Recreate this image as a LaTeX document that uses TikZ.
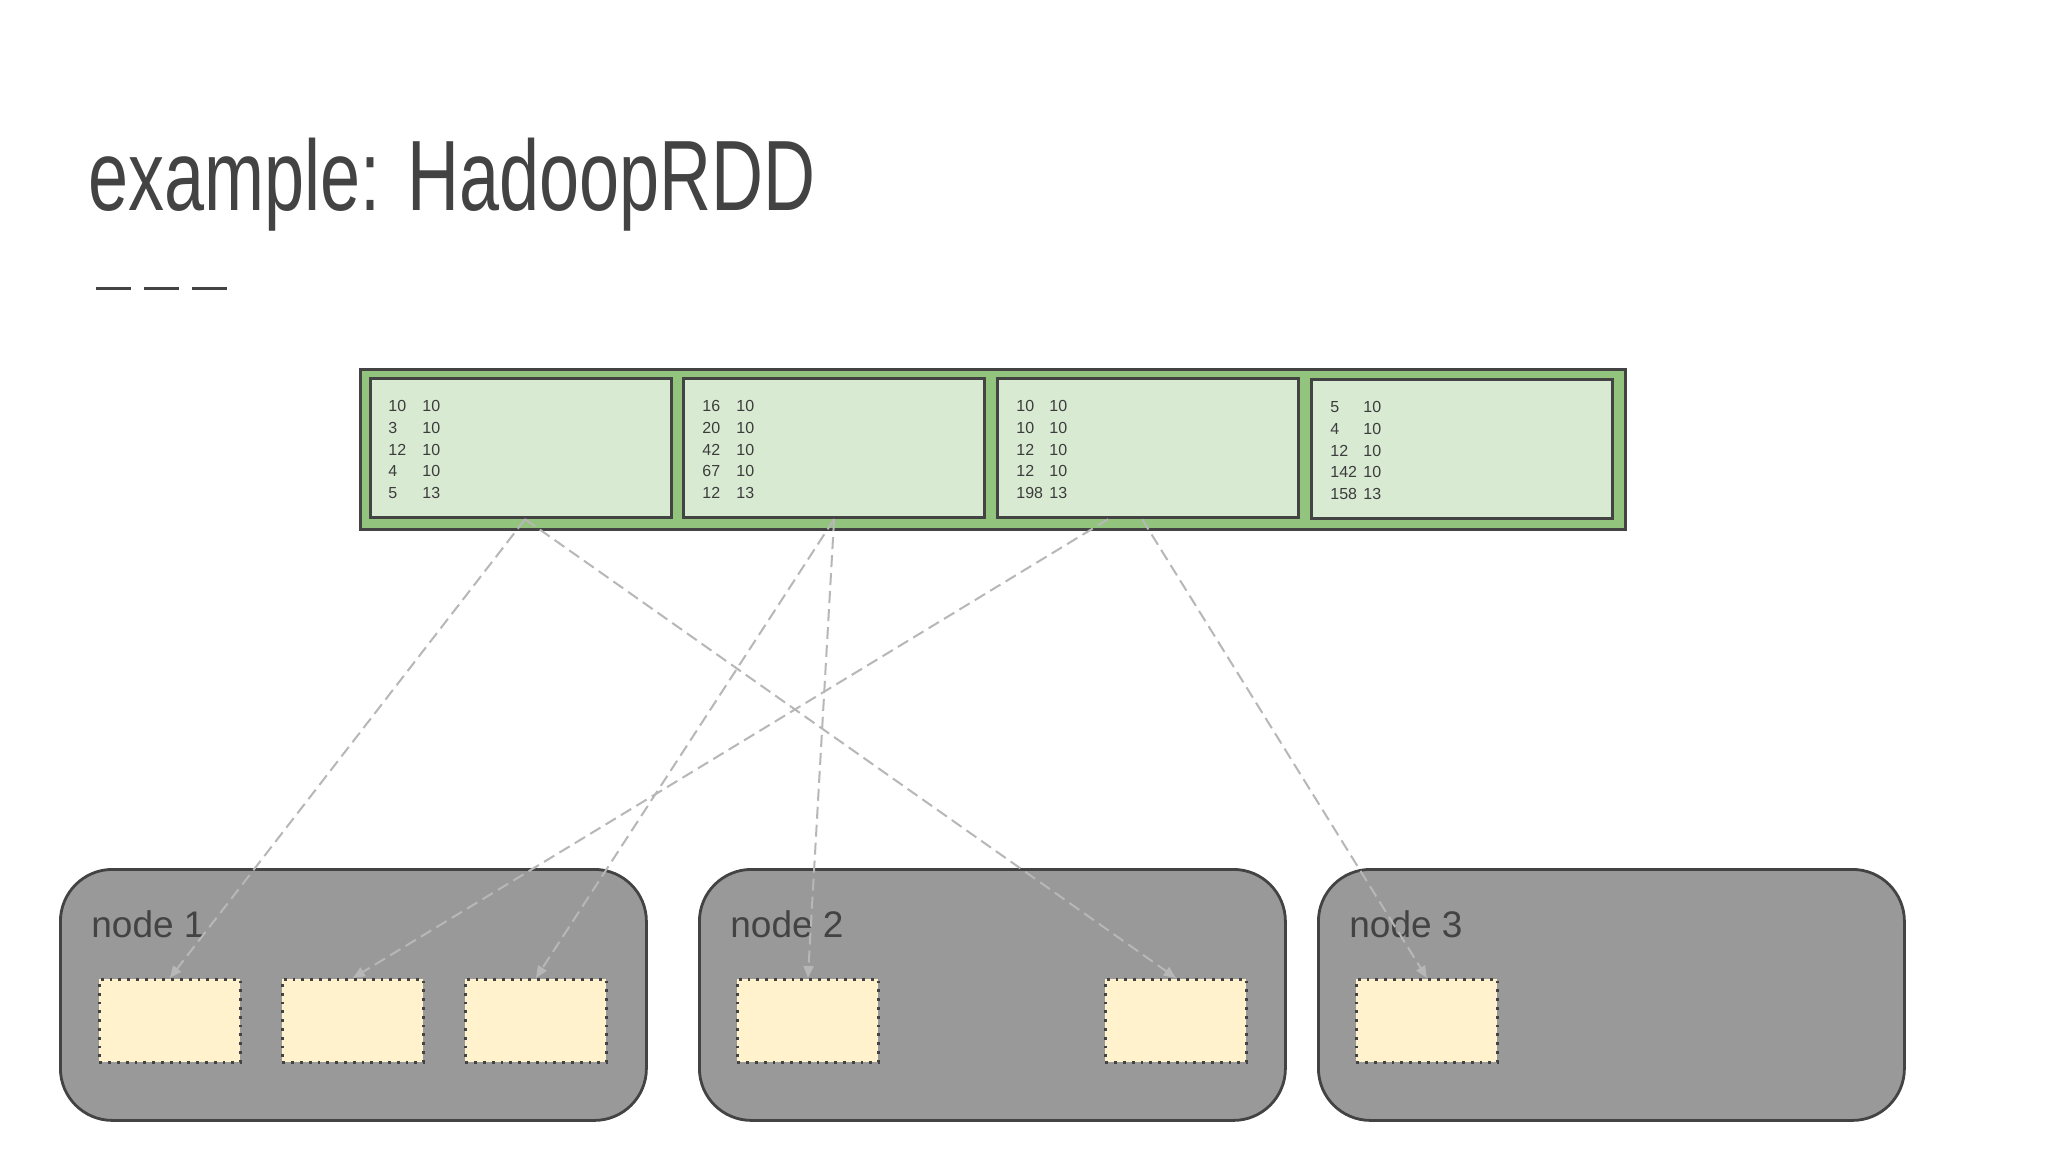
\documentclass[tikz,border=0pt]{standalone}
\usepackage{fontspec}
\setmainfont{Liberation Sans}
\newfontfamily\titlefont{Liberation Sans}[FakeStretch=0.72]
\usetikzlibrary{arrows.meta}
\definecolor{dk}{HTML}{434343}
\definecolor{grn}{HTML}{93C47D}
\definecolor{lgrn}{HTML}{D9EAD3}
\definecolor{nodeg}{HTML}{999999}
\definecolor{yel}{HTML}{FFF2CC}
\definecolor{arr}{HTML}{B7B7B7}
\begin{document}
\begin{tikzpicture}[x=0.5pt,y=-0.5pt,
  part/.style={draw=dk,line width=1.6pt,fill=lgrn,minimum width=150.5pt,minimum height=69.5pt,anchor=north west},
  row/.style={font=\fontsize{8}{10}\selectfont,text=dk!90!black,anchor=west,inner sep=0pt},
  machine/.style={draw=dk,line width=1.4pt,fill=nodeg,rounded corners=26pt,minimum width=293pt,minimum height=125.5pt,anchor=north west},
  slot/.style={draw=dk,line width=1.4pt,dash pattern=on 1.4pt off 3pt,fill=yel,minimum width=70.5pt,minimum height=41.5pt,anchor=north west,inner sep=0pt},
  lab/.style={font=\fontsize{18.5}{20}\selectfont,text=dk,anchor=west,inner sep=0pt},
  link/.style={draw=arr,line width=1pt,dash pattern=on 6pt off 3pt,-{Triangle[length=6pt,width=5pt]}}]
\useasboundingbox[fill=white] (0,0) rectangle (2048,1152);
\node[anchor=base west,inner sep=0pt,text=dk,font=\titlefont\fontsize{50}{50}\selectfont] (title) at (88,210) {example: HadoopRDD};
\foreach \a/\b [count=\i] in {96/131,144/179,192/227}
  \draw[dk,line width=1.5pt] (\a,288) -- (\b,288);
\node[draw=dk,line width=1.6pt,fill=grn,minimum width=632.5pt,minimum height=80pt,anchor=north west,inner sep=0pt] (rdd) at (359,368) {};
\node[part] (p1) at (369,377) {};
\node[part] (p2) at (682,377) {};
\node[part] (p3) at (996,377) {};
\node[part] (p4) at (1310,378) {};
\newcommand{\rows}[4]{%
  \foreach \n/\d [count=\k from 0] in {#4}{
    \node[row] at (#1,#3+21.8*\k) {\n};
    \node[row] at (#2,#3+21.8*\k) {\d};}}
\rows{388}{422}{406}{10/10/05/2015 10:14:01 UserInit,3/10/05/2015 10:14:55 FirstNa,12/10/05/2015 10:17:03 UserLo,4/10/05/2015 10:21:31 UserLo,5/13/05/2015 21:10:11 UserIni}
\rows{702}{736}{406}{16/10/05/2015 10:14:01 UserInit,20/10/05/2015 10:14:55 FirstNa,42/10/05/2015 10:17:03 UserLo,67/10/05/2015 10:21:31 UserLo,12/13/05/2015 21:10:11 UserIni}
\rows{1016}{1049}{406}{10/10/05/2015 10:14:01 UserInit,10/10/05/2015 10:14:55 FirstNa,12/10/05/2015 10:17:03 UserLo,12/10/05/2015 10:21:31 UserLo,198/13/05/2015 21:10:11 UserIni}
\rows{1330}{1363}{407}{5/10/05/2015 10:14:01 UserInit,4/10/05/2015 10:14:55 FirstNa,12/10/05/2015 10:17:03 UserLo,142/10/05/2015 10:21:31 UserLo,158/13/05/2015 21:10:11 UserIni}
\node[machine] (m1) at (59,868) {};
\node[machine] (m2) at (698,868) {};
\node[machine] (m3) at (1317,868) {};
\node[lab] (l1) at (91,924) {node 1};
\node[lab] (l2) at (730,924) {node 2};
\node[lab] (l3) at (1349,924) {node 3};
\node[slot] (s1) at (98,978) {};
\node[slot] (s2) at (281,978) {};
\node[slot] (s3) at (464,978) {};
\node[slot] (s4) at (736,978) {};
\node[slot] (s5) at (1104,978) {};
\node[slot] (s6) at (1355,978) {};
\draw[link] ([xshift=2]p1.south) -- (s1.north);
\draw[link] ([xshift=2]p1.south) -- (s5.north);
\draw[link] (p2.south) -- (s3.north);
\draw[link] (p2.south) -- (s4.north);
\draw[link] ([xshift=-20]p3.south) -- (s2.north);
\draw[link] ([xshift=-3]p3.south) -- (s6.north);
\end{tikzpicture}
\end{document}
